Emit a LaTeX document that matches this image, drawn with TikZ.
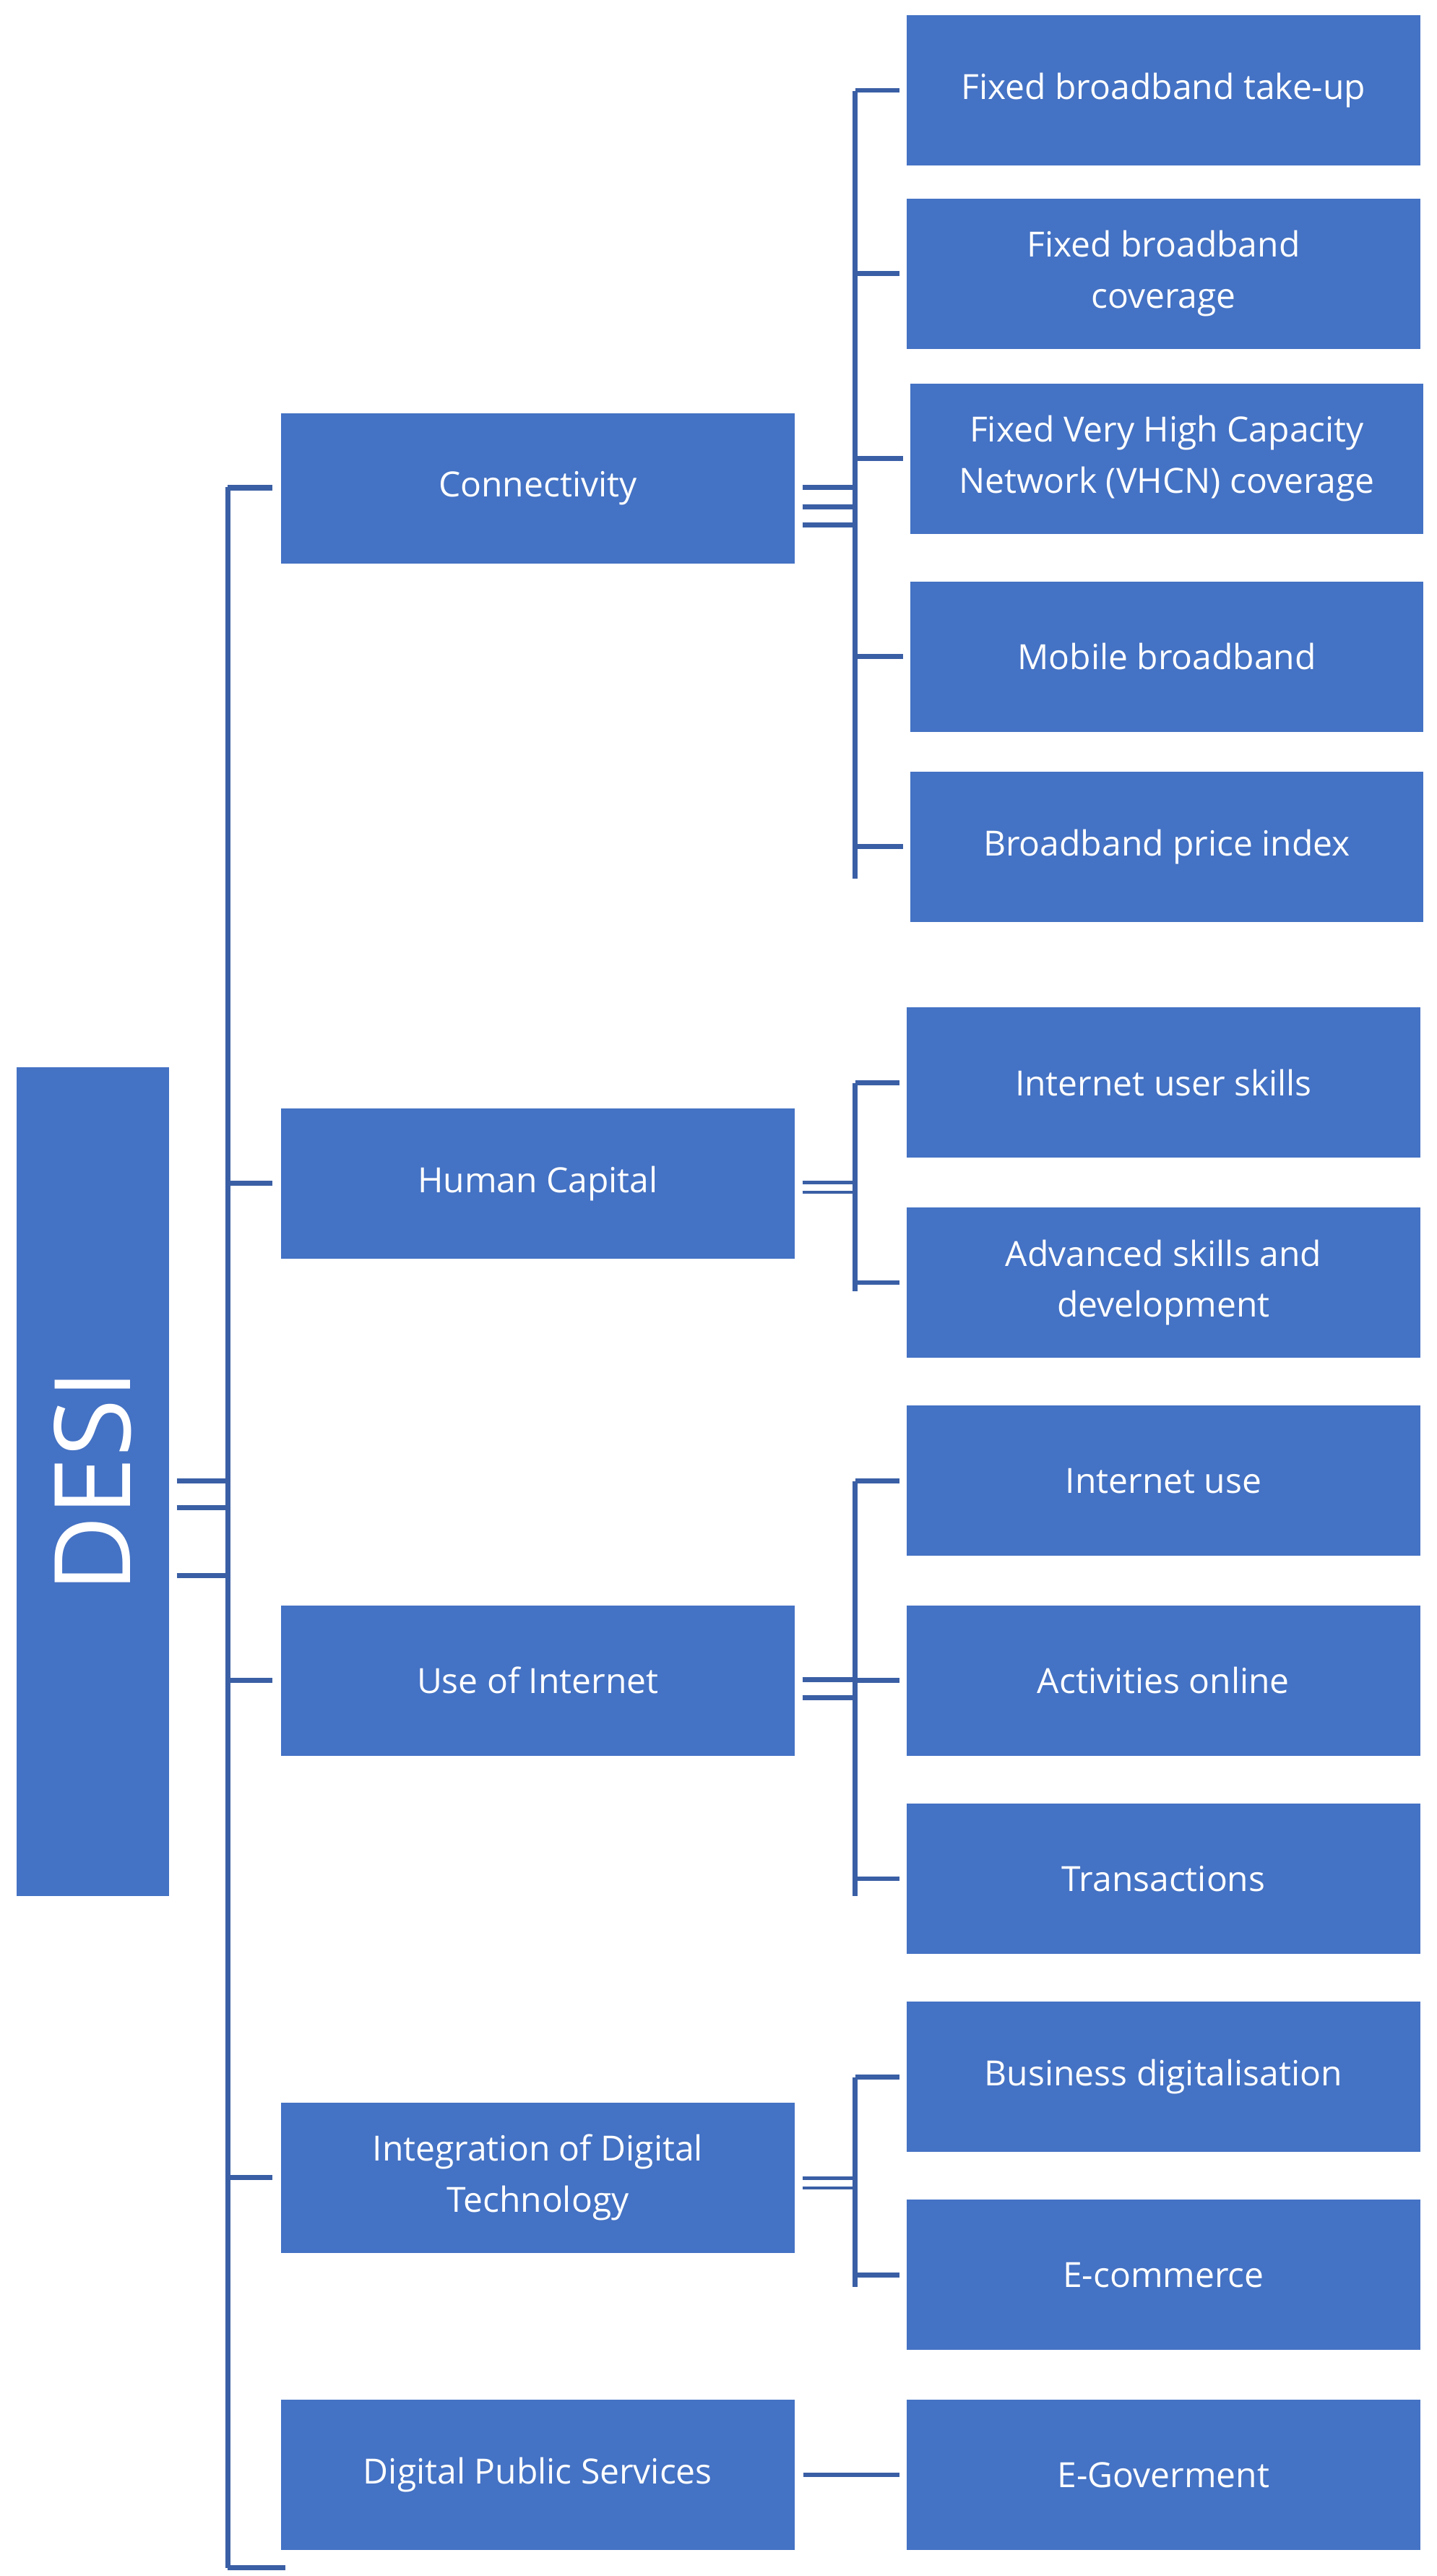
\documentclass[tikz,border=0pt]{standalone}
\usepackage{fontspec}
\setmainfont{Open Sans}
\begin{document}
\begin{tikzpicture}[x=1pt,y=-1pt,
  box/.style={fill=boxc,draw=none,inner sep=0pt,minimum width=311pt,minimum height=91pt,text=white,font=\fontsize{21}{31}\selectfont,align=center,anchor=north west},
  ln/.style={draw=linec,line width=3pt}]
\definecolor{boxc}{HTML}{4472C4}
\definecolor{linec}{HTML}{3A5FA5}
\useasboundingbox (0,0) rectangle (870,1560);
\node[fill=boxc,inner sep=0pt,minimum width=92pt,minimum height=502pt,anchor=north west] (desi) at (10,646) {};
\node[text=white,rotate=90,font=\fontsize{64}{70}\selectfont] (desit) at (desi.center) {DESI};
% level 1
\node[box] (c) at (170,250) {Connectivity};
\node[box] (h) at (170,671) {Human Capital};
\node[box] (u) at (170,972) {Use of Internet};
\node[box] (i) at (170,1273) {Integration of Digital\\Technology};
\node[box] (d) at (170,1453) {Digital Public Services};
% level 2
\node[box] (c1) at (549,9) {Fixed broadband take-up};
\node[box] (c2) at (549,120) {Fixed broadband\\coverage};
\node[box] (c3) at (551,232) {Fixed Very High Capacity\\Network (VHCN) coverage};
\node[box] (c4) at (551,352) {Mobile broadband};
\node[box] (c5) at (551,467) {Broadband price index};
\node[box] (h1) at (549,610) {Internet user skills};
\node[box] (h2) at (549,731) {Advanced skills and\\development};
\node[box] (u1) at (549,851) {Internet use};
\node[box] (u2) at (549,972) {Activities online};
\node[box] (u3) at (549,1092) {Transactions};
\node[box] (i1) at (549,1212) {Business digitalisation};
\node[box] (i2) at (549,1332) {E-commerce};
\node[box] (d1) at (549,1453) {E-Goverment};
% main bracket
\coordinate (mt) at (138,295);
\coordinate (mb) at (138,1555);
\draw[ln] (mt) -- (mb);
\foreach \n in {c,h,u,i} \draw[ln] (138,0 |- \n.west) -- ([xshift=-5pt]\n.west);
\draw[ln] (mt) -- (165,295);
\draw[ln] (mb) -- (173,1555);
\foreach \yy in {897,913,954} \draw[ln] (107,\yy) -- (138,\yy);
% connectivity
\draw[ln] (518,55) -- (518,532);
\foreach \n in {c1,c2,c3,c4,c5} \draw[ln] (518,0 |- \n.west) -- ([xshift=-4pt]\n.west);
\foreach \yy in {295,307,318} \draw[ln] (486,\yy) -- (518,\yy);
% human
\draw[ln] (518,656) -- (518,782);
\foreach \n in {h1,h2} \draw[ln] (518,0 |- \n.west) -- ([xshift=-4pt]\n.west);
\foreach \yy in {716,722} \draw[ln,line width=2pt] (486,\yy) -- (518,\yy);
% use
\draw[ln] (518,897) -- (518,1148);
\foreach \n in {u1,u2,u3} \draw[ln] (518,0 |- \n.west) -- ([xshift=-4pt]\n.west);
\foreach \yy in {1017,1028} \draw[ln] (486,\yy) -- (518,\yy);
% integration
\draw[ln] (518,1258) -- (518,1385);
\foreach \n in {i1,i2} \draw[ln] (518,0 |- \n.west) -- ([xshift=-4pt]\n.west);
\foreach \yy in {1319,1325} \draw[ln,line width=2pt] (486,\yy) -- (518,\yy);
% dps
\draw[ln] ([xshift=5pt]d.east) -- ([xshift=-4pt]d1.west);
\end{tikzpicture}
\end{document}
